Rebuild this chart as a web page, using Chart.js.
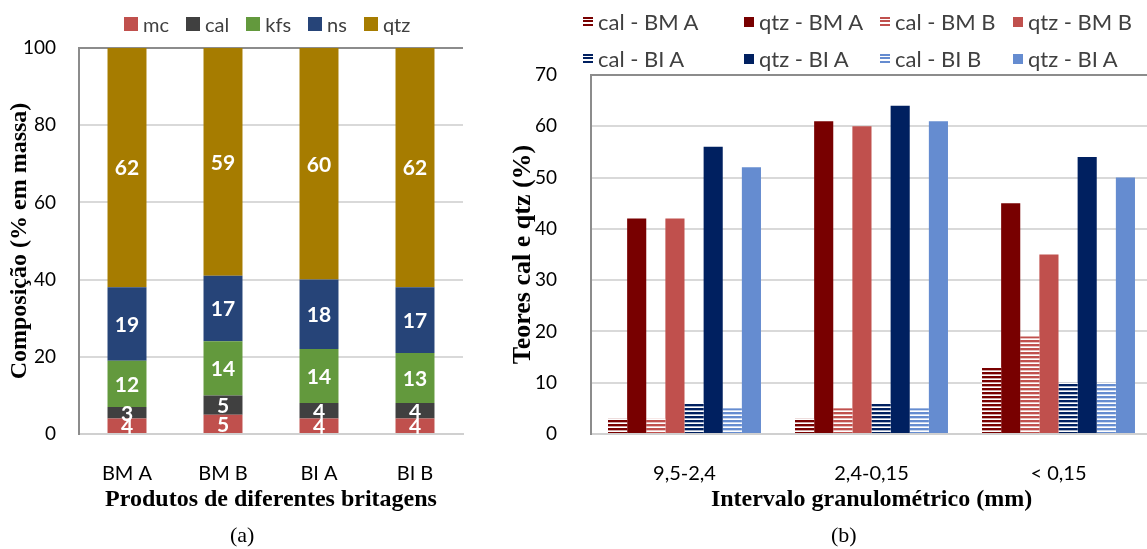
<!DOCTYPE html>
<html>
<head>
<meta charset="utf-8">
<script src="https://cdn.jsdelivr.net/npm/chart.js@4.4.1/dist/chart.umd.min.js"></script>
<style>
  html, body { margin: 0; padding: 0; background: #fff; overflow: hidden; }
  body { width: 1147px; height: 549px; position: relative; font-family: Lato, 'Liberation Sans', sans-serif; }
  canvas { position: absolute; top: 0; }
  #chart-a { left: 0; }
  #chart-b { left: 490px; }
  .legend { position: absolute; color: #404040; }
  .legend-item { display: flex; align-items: center; white-space: nowrap; }
  .legend-item .sw { display: inline-block; margin-right: 5px; }
  #legend-a { left: 124px; top: 12px; display: flex; gap: 17px; font-size: 20px; }
  #legend-a .sw { width: 14px; height: 14px; }
  #legend-b { left: 583px; top: 8px; display: grid; grid-template-columns: 161px 136px 133px auto; row-gap: 10px; font-size: 22px; }
  #legend-b .sw { width: 10px; height: 10px; }
  .caption { position: absolute; font-family: 'Liberation Serif', serif; font-size: 22px; color: #000; }
</style>
</head>
<body>
<canvas id="chart-a" width="500" height="549"></canvas>
<canvas id="chart-b" width="680" height="549"></canvas>
<div id="legend-a" class="legend"></div>
<div id="legend-b" class="legend"></div>
<div class="caption" style="left:230px; top:522px">(a)</div>
<div class="caption" style="left:831px; top:522px">(b)</div>

<script>
/* ===== DATA ===== */

// (a) composition of the crushed products
const productLabels = ['BM A', 'BM B', 'BI A', 'BI B'];
const mcValues  = [4, 5, 4, 4];
const calValues = [3, 5, 4, 4];
const kfsValues = [12, 14, 14, 13];
const nsValues  = [19, 17, 18, 17];
const qtzValues = [62, 59, 60, 62];
const compTicks = [0, 20, 40, 60, 80, 100];

// (b) cal and qtz per size range
const sizeLabels = ['9,5-2,4', '2,4-0,15', '< 0,15'];
const calBMA = [3, 3, 13];
const qtzBMA = [42, 61, 45];
const calBMB = [3, 5, 19];
const qtzBMB = [42, 60, 35];
const calBIA = [6, 6, 10];
const qtzBIA = [56, 64, 54];
const calBIB = [5, 5, 10];
const qtzBIB = [52, 61, 50];
const gradeTicks = [0, 10, 20, 30, 40, 50, 60, 70];

/* ===== STYLE ===== */
const Y_TICK_FONT = { family: 'Lato', size: 19 };
const X_TICK_FONT = { family: 'Lato', size: 20 };
const GRID = '#d9d9d9';
const FRAME = '#8c8c8c';

// horizontal stripes like the Excel "narrow horizontal" pattern
function stripes(color) {
  const c = document.createElement('canvas');
  c.width = 4; c.height = 4;
  const g = c.getContext('2d');
  g.fillStyle = '#ffffff';
  g.fillRect(0, 0, 4, 4);
  g.fillStyle = color;
  g.fillRect(0, 0, 4, 2);
  g.globalAlpha = 0.35;
  g.fillRect(0, 2, 4, 1);
  return g.createPattern(c, 'repeat');
}

function cssStripes(color) {
  return `repeating-linear-gradient(to bottom, ${color} 0 2px, #fff 2px 3.4px)`;
}

// white value labels in the middle of each stacked segment
const segmentLabels = {
  id: 'segmentLabels',
  afterDatasetsDraw(chart) {
    const ctx = chart.ctx;
    ctx.save();
    ctx.fillStyle = '#fff';
    ctx.font = 'bold 21px Lato';
    ctx.textAlign = 'center';
    ctx.textBaseline = 'middle';
    chart.data.datasets.forEach((ds, i) => {
      chart.getDatasetMeta(i).data.forEach((bar, j) => {
        const p = bar.getCenterPoint();
        ctx.fillText(String(ds.data[j]), p.x, p.y + 1);
      });
    });
    ctx.restore();
  }
};

function fixedBox(size) {
  return scale => {
    if (scale.isHorizontal()) scale.height = size;
    else scale.width = size;
  };
}

/* ===== CHART (a) ===== */
const seriesA = [
  { label: 'mc', data: mcValues, color: '#c0504d' },
  { label: 'cal', data: calValues, color: '#404040' },
  { label: 'kfs', data: kfsValues, color: '#63993d' },
  { label: 'ns', data: nsValues, color: '#264478' },
  { label: 'qtz', data: qtzValues, color: '#a67c00' }
];

new Chart(document.getElementById('chart-a'), {
  type: 'bar',
  data: {
    labels: productLabels,
    datasets: seriesA.map(s => ({
      label: s.label, data: s.data, backgroundColor: s.color,
      borderWidth: 0, categoryPercentage: 1, barPercentage: 0.406
    }))
  },
  options: {
    responsive: false, animation: false, devicePixelRatio: 1,
    layout: { padding: { left: 0, top: 48, right: 37, bottom: 35 } },
    plugins: { legend: { display: false }, tooltip: { enabled: false } },
    scales: {
      x: {
        stacked: true,
        afterFit: fixedBox(80),
        grid: { display: false, drawTicks: false },
        border: { color: '#d0d0d0', width: 2 },
        ticks: { color: '#000', font: X_TICK_FONT, padding: 28 },
        title: { display: true, text: 'Produtos de diferentes britagens', color: '#000',
                 font: { family: 'Liberation Serif', size: 24, weight: 'bold' }, padding: 0 }
      },
      y: {
        stacked: true, min: 0, max: 100,
        afterFit: fixedBox(79),
        afterBuildTicks: scale => { scale.ticks = compTicks.map(v => ({ value: v })); },
        grid: { color: ctx => ctx.tick && ctx.tick.value === 100 ? FRAME : GRID, lineWidth: 2, drawTicks: false },
        border: { color: FRAME, width: 2 },
        ticks: { color: '#000', font: Y_TICK_FONT, padding: 23 },
        title: { display: true, text: 'Composição (% em massa)', color: '#000',
                 font: { family: 'Liberation Serif', size: 24, weight: 'bold' }, padding: 5 }
      }
    }
  },
  plugins: [segmentLabels]
});

/* ===== CHART (b) ===== */
const seriesB = [
  { label: 'cal - BM A', data: calBMA, color: '#780000', hatch: true },
  { label: 'qtz - BM A', data: qtzBMA, color: '#780000' },
  { label: 'cal - BM B', data: calBMB, color: '#c0504d', hatch: true },
  { label: 'qtz - BM B', data: qtzBMB, color: '#c0504d' },
  { label: 'cal - BI A', data: calBIA, color: '#002060', hatch: true },
  { label: 'qtz - BI A', data: qtzBIA, color: '#002060' },
  { label: 'cal - BI B', data: calBIB, color: '#658cd0', hatch: true },
  { label: 'qtz - BI A', data: qtzBIB, color: '#658cd0' }
];

new Chart(document.getElementById('chart-b'), {
  type: 'bar',
  data: {
    labels: sizeLabels,
    datasets: seriesB.map(s => ({
      label: s.label, data: s.data,
      backgroundColor: s.hatch ? stripes(s.color) : s.color,
      borderWidth: 0, categoryPercentage: 0.818, barPercentage: 1
    }))
  },
  options: {
    responsive: false, animation: false, devicePixelRatio: 1,
    layout: { padding: { left: 0, top: 75, right: 18, bottom: 35 } },
    plugins: { legend: { display: false }, tooltip: { enabled: false } },
    scales: {
      x: {
        afterFit: fixedBox(80),
        grid: { display: false, drawTicks: false },
        border: { color: '#d0d0d0', width: 2 },
        ticks: { color: '#000', font: X_TICK_FONT, padding: 28 },
        title: { display: true, text: 'Intervalo granulométrico (mm)', color: '#000',
                 font: { family: 'Liberation Serif', size: 24, weight: 'bold' }, padding: 0 }
      },
      y: {
        min: 0, max: 70,
        afterFit: fixedBox(101),
        afterBuildTicks: scale => { scale.ticks = gradeTicks.map(v => ({ value: v })); },
        grid: { color: ctx => ctx.tick && ctx.tick.value === 70 ? FRAME : GRID, lineWidth: 2, drawTicks: false },
        border: { color: FRAME, width: 2 },
        ticks: { color: '#000', font: Y_TICK_FONT, padding: 34 },
        title: { display: true, text: 'Teores cal e qtz (%)', color: '#000',
                 font: { family: 'Liberation Serif', size: 26, weight: 'bold' }, padding: 18 }
      }
    }
  }
});

/* ===== LEGENDS ===== */
function buildLegend(id, series) {
  document.getElementById(id).innerHTML = series.map(s => `
    <span class="legend-item">
      <span class="sw" style="background:${s.hatch ? cssStripes(s.color) : s.color}"></span>${s.label}
    </span>`).join('');
}
buildLegend('legend-a', seriesA);
buildLegend('legend-b', seriesB);
</script>
</body>
</html>
